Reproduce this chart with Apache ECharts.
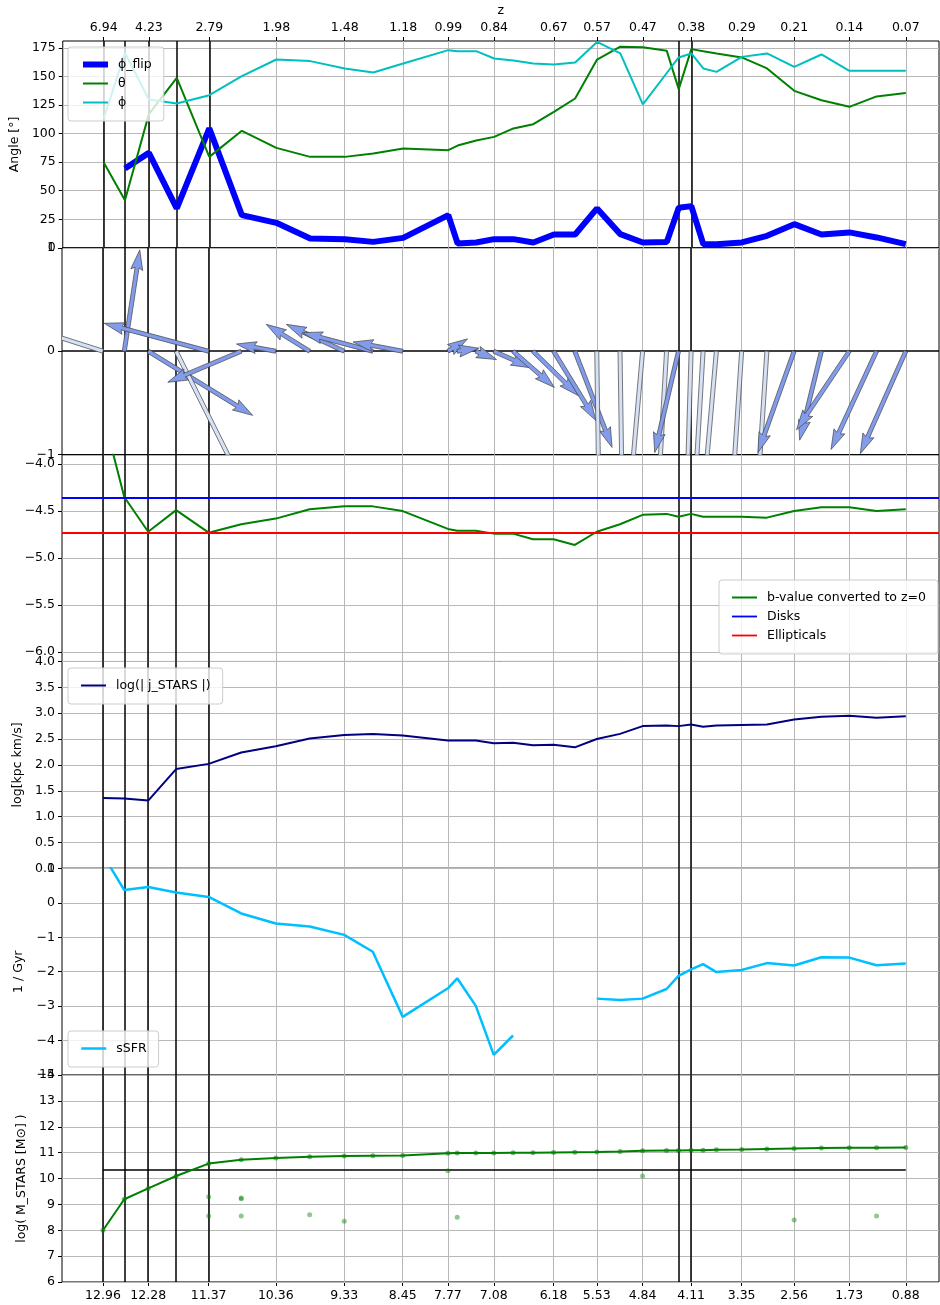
<!DOCTYPE html>
<html><head><meta charset="utf-8">
<script src="https://cdn.jsdelivr.net/npm/echarts@6/dist/echarts.min.js"></script>
<style>html,body{margin:0;padding:0;background:#fff}#c{width:940px;height:1305px}</style>
</head><body><div id="c"></div>
<script>
// ---------------- data ----------------
const times = [12.96, 12.64, 12.28, 11.86, 11.37, 10.88, 10.36, 9.85, 9.33, 8.90, 8.45, 7.77, 7.63, 7.35, 7.08, 6.79, 6.49, 6.18, 5.86, 5.53, 5.18, 4.84, 4.48, 4.30, 4.11, 3.93, 3.73, 3.35, 2.97, 2.56, 2.15, 1.73, 1.32, 0.88];
const tickTimes = [12.96, 12.28, 11.37, 10.36, 9.33, 8.45, 7.77, 7.08, 6.18, 5.53, 4.84, 4.11, 3.35, 2.56, 1.73, 0.88];
const zTickLabels = ['6.94', '4.23', '2.79', '1.98', '1.48', '1.18', '0.99', '0.84', '0.67', '0.57', '0.47', '0.38', '0.29', '0.21', '0.14', '0.07'];
const eventTimes = [12.96, 12.64, 12.28, 11.86, 11.37, 4.30, 4.11];

const phiFlip = [null, 69.5, 83.1, 34.5, 104.5, 28.6, 21.9, 8.2, 7.6, 5.2, 8.7, 28.6, 3.8, 4.7, 7.6, 7.6, 4.7, 11.7, 11.7, 34.5, 12.0, 4.7, 5.2, 35.0, 36.5, 3.2, 3.2, 4.7, 10.5, 20.7, 11.7, 13.5, 9.1, 3.2];
const theta = [74.7, 41.7, 117.0, 148.8, 79.6, 102.4, 87.5, 79.6, 79.6, 82.6, 87.0, 85.5, 89.5, 94.0, 97.1, 104.5, 108.2, 119.0, 130.7, 164.8, 176.0, 175.6, 172.4, 138.9, 173.9, 172.0, 170.1, 166.6, 157.0, 137.4, 129.2, 123.4, 132.5, 135.4];
const phi = [113.2, 170.6, 129.8, 126.3, 133.6, 150.2, 164.8, 163.4, 157.0, 153.5, 161.3, 173.0, 172.1, 172.1, 165.7, 163.9, 161.3, 160.5, 162.2, 180.2, 170.1, 125.5, 153.0, 166.6, 170.1, 157.0, 154.0, 167.1, 170.1, 158.4, 169.2, 154.9, 154.9, 154.9];

// projected spin vectors (x, y components, in y-axis units) and depth shade (0 = pointing away, 1 = towards)
const arrowU = [-0.97, 0.15, 1.01, 0.68, -1.01, -0.71, -0.38, -0.42, -0.56, -0.68, -0.48, 0.19, 0.21, 0.20, 0.36, 0.40, 0.44, 0.41, 0.36, 0.02, 0.02, -0.12, -0.08, -0.23, -0.04, -0.08, -0.12, -0.09, -0.09, -0.35, -0.21, -0.51, -0.44, -0.44];
const arrowV = [0.31, 0.98, -0.62, -1.36, 0.27, -0.30, 0.07, 0.26, 0.26, 0.18, 0.09, 0.12, 0.03, -0.08, -0.16, -0.35, -0.43, -0.67, -0.93, -1.36, -1.36, -1.36, -1.36, -0.98, -1.36, -1.36, -1.36, -1.36, -1.36, -0.98, -0.86, -0.76, -0.95, -0.99];
const arrowShade = [0, 1, 1, 0, 1, 1, 1, 1, 1, 1, 1, 1, 1, 1, 1, 1, 1, 1, 1, 0, 0, 0, 0, 1, 0, 0, 0, 0, 0, 1, 1, 1, 1, 1];

const bValue = [-3.47, -4.35, -4.72, -4.49, -4.73, -4.64, -4.58, -4.48, -4.45, -4.45, -4.50, -4.69, -4.71, -4.71, -4.74, -4.74, -4.80, -4.80, -4.86, -4.72, -4.64, -4.54, -4.53, -4.56, -4.53, -4.56, -4.56, -4.56, -4.57, -4.50, -4.46, -4.46, -4.50, -4.48];
const diskB = -4.356;
const ellipticalB = -4.732;

const logJ = [1.36, 1.35, 1.31, 1.92, 2.02, 2.24, 2.36, 2.51, 2.58, 2.60, 2.57, 2.47, 2.47, 2.47, 2.42, 2.43, 2.38, 2.39, 2.34, 2.50, 2.60, 2.75, 2.76, 2.75, 2.78, 2.74, 2.76, 2.77, 2.78, 2.88, 2.93, 2.95, 2.91, 2.94];

const sSFR = [1.39, 0.37, 0.46, 0.30, 0.17, -0.31, -0.60, -0.69, -0.93, -1.42, -3.31, -2.48, -2.19, -2.99, -4.41, -3.85, null, null, null, -2.78, -2.82, -2.78, -2.50, -2.12, -1.93, -1.78, -2.01, -1.95, -1.75, -1.82, -1.58, -1.59, -1.81, -1.76];

const logMstars = [8.0, 9.2, 9.62, 10.1, 10.58, 10.73, 10.8, 10.84, 10.87, 10.88, 10.89, 10.98, 10.99, 10.99, 10.99, 11.0, 11.0, 11.01, 11.02, 11.03, 11.05, 11.08, 11.09, 11.09, 11.1, 11.1, 11.11, 11.12, 11.14, 11.16, 11.18, 11.19, 11.19, 11.2];
const satTimes = [11.37, 11.37, 10.88, 10.88, 10.88, 9.85, 9.33, 7.77, 7.63, 4.84, 2.56, 1.32];
const satMass = [9.3, 8.55, 9.25, 9.22, 8.55, 8.6, 8.35, 10.3, 8.5, 10.1, 8.4, 8.55];
const massLine = 10.33;

// y tick labels per panel
const yTicksAngle = [0, 25, 50, 75, 100, 125, 150, 175];
const yTicksArrow = [-1, 0, 1];
const yTicksB = [-6, -5.5, -5, -4.5, -4];
const yTicksJ = [0, 0.5, 1, 1.5, 2, 2.5, 3, 3.5, 4];
const yTicksSSFR = [-5, -4, -3, -2, -1, 0, 1];
const yTicksM = [6, 7, 8, 9, 10, 11, 12, 13, 14];

// ---------------- layout ----------------
const FONT = 'DejaVu Sans';
const FS = 12.5;
const TOP0 = 41, GH = 206.83, LEFT = 62, WIDTH = 877;
const XMIN = 0.38, XMAX = 13.577;
const GRAY = '#b8b8b8';
const minus = s => s.replace('-', '\u2212');
const pairs = arr => times.map((t, i) => [t, arr[i] == null ? '-' : arr[i]]);

const panels = [
  {min: 0, max: 181, ticks: yTicksAngle, dec: 0, name: 'Angle [°]', gap: 37, hgrid: yTicksAngle},
  {min: -1, max: 1, ticks: yTicksArrow, dec: 0, name: '', gap: 30, hgrid: []},
  {min: -6.1, max: -3.9, ticks: yTicksB, dec: 1, name: '', gap: 30, hgrid: yTicksB},
  {min: 0, max: 4, ticks: yTicksJ, dec: 1, name: 'log[kpc km/s]', gap: 32, hgrid: yTicksJ},
  {min: -5, max: 1, ticks: yTicksSSFR, dec: 0, name: '1 / Gyr', gap: 31, hgrid: yTicksSSFR},
  {min: 6, max: 14, ticks: yTicksM, dec: 0, name: 'log( M_STARS [M\u2299] )', gap: 31, hgrid: yTicksM}
];

const txt = {color: '#000', fontSize: FS, fontFamily: FONT};

const grids = panels.map((p, i) => ({left: LEFT, width: WIDTH, top: TOP0 + i * GH, height: GH,
  show: true, borderColor: '#000', borderWidth: 1, backgroundColor: 'transparent'}));

const xAxes = panels.map((p, i) => ({
  type: 'value', gridIndex: i, min: XMIN, max: XMAX, inverse: true,
  axisLine: {show: false, onZero: false}, splitLine: {show: false},
  axisTick: {show: i === 5, customValues: tickTimes, length: 4, lineStyle: {color: '#000'}},
  axisLabel: Object.assign({show: i === 5, customValues: tickTimes, margin: 7, formatter: v => v.toFixed(2)}, txt)
}));
xAxes.push({
  type: 'value', gridIndex: 0, position: 'top', min: XMIN, max: XMAX, inverse: true,
  axisLine: {show: false, onZero: false}, splitLine: {show: false},
  axisTick: {show: true, customValues: tickTimes, length: 4, lineStyle: {color: '#000'}},
  axisLabel: Object.assign({customValues: tickTimes, margin: 7, formatter: v => {
    const k = tickTimes.findIndex(t => Math.abs(t - v) < 1e-6); return k >= 0 ? zTickLabels[k] : '';
  }}, txt),
  name: 'z', nameLocation: 'middle', nameGap: 24, nameTextStyle: txt
});

const yAxes = panels.map((p, i) => ({
  type: 'value', gridIndex: i, min: p.min, max: p.max,
  axisLine: {show: false, onZero: false}, splitLine: {show: false},
  axisTick: {show: true, customValues: p.ticks, length: 4, lineStyle: {color: '#000'}},
  axisLabel: Object.assign({customValues: p.ticks, margin: 7, formatter: v => minus(v.toFixed(p.dec))}, txt),
  name: p.name, nameLocation: 'middle', nameRotate: 90, nameGap: p.gap, nameTextStyle: txt
}));

const series = [];
// grid lines and event lines
panels.forEach((p, i) => {
  series.push({type: 'line', xAxisIndex: i, yAxisIndex: i, data: [], silent: true, z: 1,
    markLine: {silent: true, z: 1, symbol: ['none', 'none'], label: {show: false}, animation: false,
      lineStyle: {color: GRAY, width: 1, type: 'solid'},
      data: tickTimes.map(t => ({xAxis: t})).concat(p.hgrid.map(v => ({yAxis: v})))}});
  const blk = eventTimes.map(t => ({xAxis: t}));
  if (i === 1) blk.push({yAxis: 0});
  series.push({type: 'line', xAxisIndex: i, yAxisIndex: i, data: [], silent: true, z: 1,
    markLine: {silent: true, z: 1.5, symbol: ['none', 'none'], label: {show: false}, animation: false,
      lineStyle: {color: '#000', width: 1.5, type: 'solid'}, data: blk}});
});

const lineS = (name, idx, data, color, width, extra) => Object.assign({
  name, type: 'line', xAxisIndex: idx, yAxisIndex: idx, data: pairs(data), color,
  symbol: 'none', lineStyle: {color, width}, z: 2, clip: true, animation: false
}, extra || {});

series.push(lineS('\u03d5_flip', 0, phiFlip, '#0000ff', 6));
series.push(lineS('\u03b8', 0, theta, '#008000', 2));
series.push(lineS('\u03d5', 0, phi, '#00bfbf', 2));

// quiver arrows
const PALE = [214, 225, 246], MED = [130, 155, 235];
series.push({
  type: 'custom', xAxisIndex: 1, yAxisIndex: 1, clip: true, z: 2, animation: false,
  data: times.map((t, i) => [t, arrowU[i], arrowV[i], arrowShade[i]]),
  encode: {x: 0, y: 1},
  renderItem: (params, api) => {
    const t = api.value(0), u = api.value(1), v = api.value(2), c = api.value(3);
    const p0 = api.coord([t, 0]);
    const unit = api.size([0, 1])[1];
    const dx = u * unit, dy = -v * unit;
    const L = Math.hypot(dx, dy);
    const w = 4.0, hl = 5 * w, hal = 4.5 * w, hw = 3 * w;
    const k = L < hl ? L / hl : 1;
    const pts = [[0, w / 2 * k], [L - hal * k, w / 2 * k], [L - hl * k, hw / 2 * k], [L, 0],
                 [L - hl * k, -hw / 2 * k], [L - hal * k, -w / 2 * k], [0, -w / 2 * k]];
    const cs = dx / L, sn = dy / L;
    const pp = pts.map(([a, b]) => [p0[0] + a * cs - b * sn, p0[1] + a * sn + b * cs]);
    const col = PALE.map((pc, j) => Math.round(pc + (MED[j] - pc) * c));
    return {type: 'polygon', shape: {points: pp},
      style: {fill: 'rgb(' + col.join(',') + ')', stroke: '#444', lineWidth: 0.7}};
  }
});

series.push(lineS('b-value converted to z=0', 2, bValue, '#008000', 2));
series.push({name: 'Disks', type: 'line', xAxisIndex: 2, yAxisIndex: 2, data: [], color: '#0000ff',
  symbol: 'none', lineStyle: {color: '#0000ff', width: 1.8},
  markLine: {silent: true, z: 3, symbol: ['none', 'none'], label: {show: false}, animation: false,
    lineStyle: {color: '#0000ff', width: 1.8, type: 'solid'}, data: [{yAxis: diskB}]}});
series.push({name: 'Ellipticals', type: 'line', xAxisIndex: 2, yAxisIndex: 2, data: [], color: '#ff0000',
  symbol: 'none', lineStyle: {color: '#ff0000', width: 1.8},
  markLine: {silent: true, z: 3, symbol: ['none', 'none'], label: {show: false}, animation: false,
    lineStyle: {color: '#ff0000', width: 1.8, type: 'solid'}, data: [{yAxis: ellipticalB}]}});

series.push(lineS('log(| j_STARS |)', 3, logJ, '#000080', 2));
series.push(lineS('sSFR', 4, sSFR, '#00bfff', 2.5));

series.push(lineS('mass', 5, logMstars, '#008000', 2, {
  symbol: 'circle', symbolSize: 5, showSymbol: true, itemStyle: {color: 'rgba(0,128,0,0.55)'},
  markLine: {silent: true, z: 1.6, symbol: ['none', 'none'], label: {show: false}, animation: false,
    lineStyle: {color: '#000', width: 1.5, type: 'solid'},
    data: [[{coord: [times[0], massLine]}, {coord: [times[times.length - 1], massLine]}]]}
}));
series.push({type: 'scatter', xAxisIndex: 5, yAxisIndex: 5, symbolSize: 5, z: 2, animation: false,
  itemStyle: {color: 'rgba(0,128,0,0.55)'},
  data: satTimes.map((t, i) => [t, satMass[i]])});

const legBase = {orient: 'vertical', itemWidth: 25, itemHeight: 12, itemGap: 4,
  backgroundColor: 'rgba(255,255,255,0.8)', borderColor: '#cccccc', borderWidth: 1, borderRadius: 3,
  itemStyle: {opacity: 0, color: 'transparent', borderWidth: 0, borderColor: 'transparent'},
  lineStyle: {width: 'inherit'},
  textStyle: Object.assign({lineHeight: 15, padding: [0, 0, 0, 5]}, txt), selectedMode: false};
const item = (name, w) => ({name, lineStyle: {width: w}});
const legends = [
  Object.assign({}, legBase, {left: 68, top: 47, padding: [10, 12, 11, 12],
    data: [item('\u03d5_flip', 6), item('\u03b8', 2), item('\u03d5', 2)]}),
  Object.assign({}, legBase, {left: 719, top: 580, padding: [10, 12, 11, 12],
    data: [item('b-value converted to z=0', 2), item('Disks', 1.8), item('Ellipticals', 1.8)]}),
  Object.assign({}, legBase, {left: 68, top: 668, padding: [10, 12, 11, 12], data: [item('log(| j_STARS |)', 2)]}),
  Object.assign({}, legBase, {left: 68, top: 1031, padding: [10, 12, 11, 12], data: [item('sSFR', 2.5)]})
];

const chart = echarts.init(document.getElementById('c'), null, {renderer: 'canvas', width: 940, height: 1305});
chart.setOption({
  animation: false,
  backgroundColor: '#fff',
  grid: grids, xAxis: xAxes, yAxis: yAxes, legend: legends, series
});
</script></body></html>
